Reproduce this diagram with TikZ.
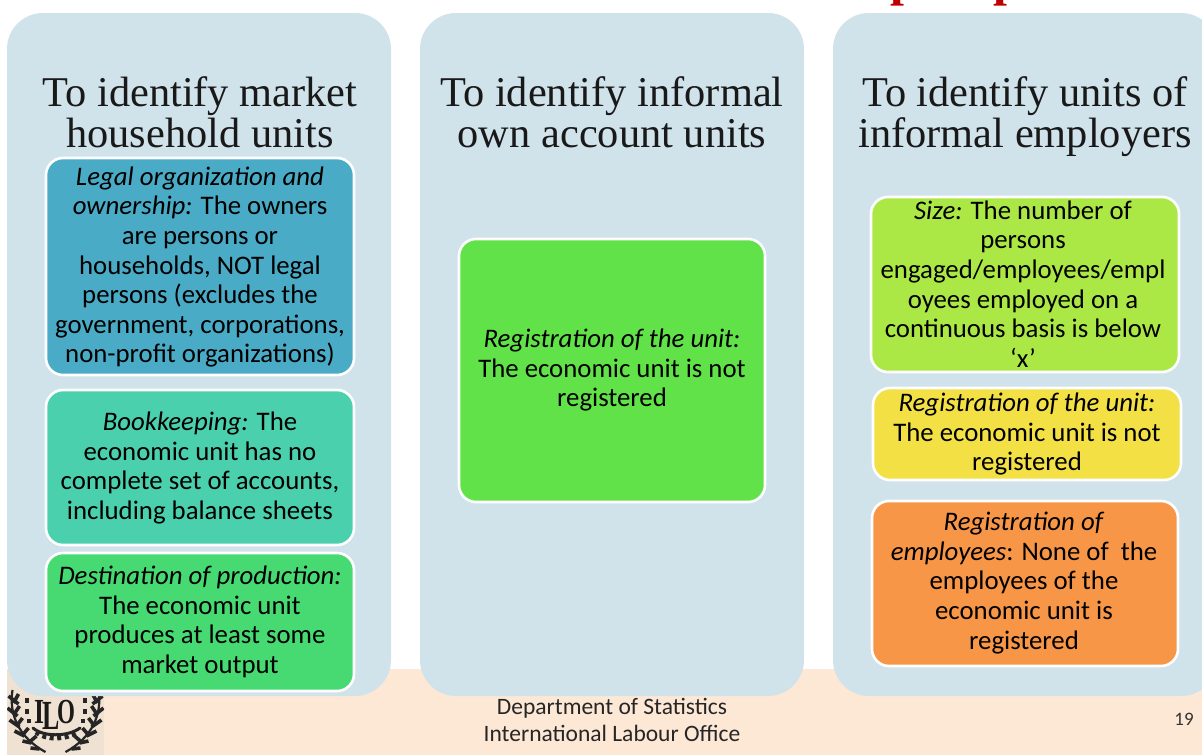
\documentclass[tikz,border=0pt]{standalone}
\usepackage{fontspec}
\setmainfont{Carlito}
\newfontfamily\serifx{Liberation Serif}
\definecolor{panel}{HTML}{D0E2EA}
\definecolor{band}{HTML}{FDE8D6}
\definecolor{logobg}{HTML}{F0E2D2}
\definecolor{cA}{HTML}{4AABC6}
\definecolor{cB}{HTML}{4BD0AE}
\definecolor{cC}{HTML}{47DA72}
\definecolor{cD}{HTML}{62E249}
\definecolor{cE}{HTML}{ACE845}
\definecolor{cF}{HTML}{F2E044}
\definecolor{cG}{HTML}{F79646}
\definecolor{redt}{HTML}{C00000}
\tikzset{
  panelbox/.style={fill=panel,rounded corners=36pt},
  card/.style={draw=white,line width=2.6pt,rounded corners=17pt},
  body/.style={align=center,font=\fontsize{26.8}{29.6}\selectfont,text=black,inner sep=0pt},
  head/.style={align=center,font=\serifx\fontsize{42.4}{41}\selectfont,text=black!90,inner sep=0pt},
  foot/.style={align=center,font=\fontsize{23.5}{27}\selectfont,text=black!85,inner sep=0pt},
  leaf/.style={line width=3.6pt,draw=black!85},
  logotext/.style={inner sep=0pt,anchor=base,text=black!90},
}
\begin{document}
\begin{tikzpicture}[x=1pt,y=-1pt]
\useasboundingbox (0,0) rectangle (1202,755);
\fill[white] (0,0) rectangle (1202,755);
% footer band
\fill[band] (7,669) rectangle (1202,755);
\fill[logobg] (7,669) rectangle (104,755);
% logo
\begin{scope}
\clip (7,669) rectangle (104,755);
\node[logotext,font=\serifx\bfseries\fontsize{32}{32}\selectfont] (ilo1) at (39,723) {\scalebox{0.8}[1.1]{I}};
\node[logotext,font=\serifx\bfseries\fontsize{36}{36}\selectfont] (ilo2) at (51,729) {\scalebox{0.72}[1.15]{L}};
\node[logotext,font=\serifx\bfseries\fontsize{32}{32}\selectfont] (ilo3) at (66,723) {\scalebox{0.72}[1.1]{O}};
\foreach \s in {-1,1}{
  \begin{scope}[shift={(55.5,0)},xscale=\s]
  \draw[line width=2.2pt,draw=black!85] (-43,690) .. controls (-47,715) and (-36,738) .. (-10,752);
  \foreach \a/\b/\e/\f in {-47/696/-37/704,-48/708/-38/716,-46/720/-36/727,-41/731/-31/736,-33/741/-24/743,-25/748/-16/749}{
    \draw[leaf] (\e,\f) -- (\a,\b);
  }
  \foreach \a/\b/\e/\f in {-37/694/-42/703,-36/706/-42/715,-33/718/-39/726,-27/728/-33/735,-19/736/-26/742}{
    \draw[leaf] (\a,\b) -- (\e,\f);
  }
  \draw[line width=4pt,draw=black!85] (-29,698) -- (-29,703) (-29,709) -- (-29,714) (-27,719) -- (-27,723);
  \end{scope}
}
\draw[line width=3pt,draw=black!85,line cap=round] (33,728) .. controls (43,737) and (68,737) .. (80,728);
\draw[line width=5pt,draw=black!85,dash pattern=on 4pt off 3.5pt] (36,732) .. controls (45,740) and (66,740) .. (77,732);
\end{scope}
% panels
\fill[panelbox] (7,13) rectangle (391,696);
\fill[panelbox] (420,13) rectangle (804,696);
\fill[panelbox] (833,13) rectangle (1217,696);
% cut-off red heading letters
\begin{scope}
\clip (0,0) rectangle (1202,6);
\node[inner sep=0pt,anchor=base,font=\serifx\bfseries\fontsize{50}{50}\selectfont,text=redt] (ptop1) at (904,-5) {p};
\node[inner sep=0pt,anchor=base,font=\serifx\bfseries\fontsize{50}{50}\selectfont,text=redt] (ptop2) at (1007,-5) {p};
\end{scope}
% headings
\node[head,anchor=base] (h1) at (200,147) {To identify market\\household units};
\node[head,anchor=base] (h2) at (612,147) {To identify informal\\own account units};
\node[head,anchor=base] (h3) at (1025,147) {To identify units of\\informal employers};
% cards column 1
\filldraw[card,fill=cA] (46,158) rectangle (354,375);
\node[body] (a) at (200,267) {\textit{Legal organization and}\\\textit{ownership:} The owners\\are persons or\\households, NOT legal\\persons (excludes the\\government, corporations,\\non-profit organizations)};
\filldraw[card,fill=cB] (46,390) rectangle (354,545);
\node[body] (b) at (200,468) {\textit{Bookkeeping:} The\\economic unit has no\\complete set of accounts,\\including balance sheets};
\filldraw[card,fill=cC] (46,553) rectangle (354,691);
\node[body] (c) at (200,622) {\textit{Destination of production:}\\The economic unit\\produces at least some\\market output};
% column 2
\filldraw[card,fill=cD] (459,239) rectangle (765,502);
\node[body] (d) at (612,370) {\textit{Registration of the unit:}\\The economic unit is not\\registered};
% column 3
\filldraw[card,fill=cE] (871,197) rectangle (1179,372);
\node[body] (e) at (1023,284) {\textit{Size:} The number of\\persons\\engaged/employees/empl\\oyees employed on a\\continuous basis is below\\‘x’};
\filldraw[card,fill=cF] (873,388) rectangle (1181,480);
\node[body] (f) at (1027,434) {\textit{Registration of the unit:}\\The economic unit is not\\registered};
\filldraw[card,fill=cG] (872,501) rectangle (1178,666);
\node[body] (g) at (1024,583) {\textit{Registration of}\\\textit{employees}: None of\ \ the\\employees of the\\economic unit is\\registered};
% footer
\node[foot] (dept) at (612,720) {Department of Statistics\\International Labour Office};
\node[inner sep=0pt,font=\fontsize{19}{19}\selectfont,text=black!80] (num) at (1184,719) {19};
\end{tikzpicture}
\end{document}
